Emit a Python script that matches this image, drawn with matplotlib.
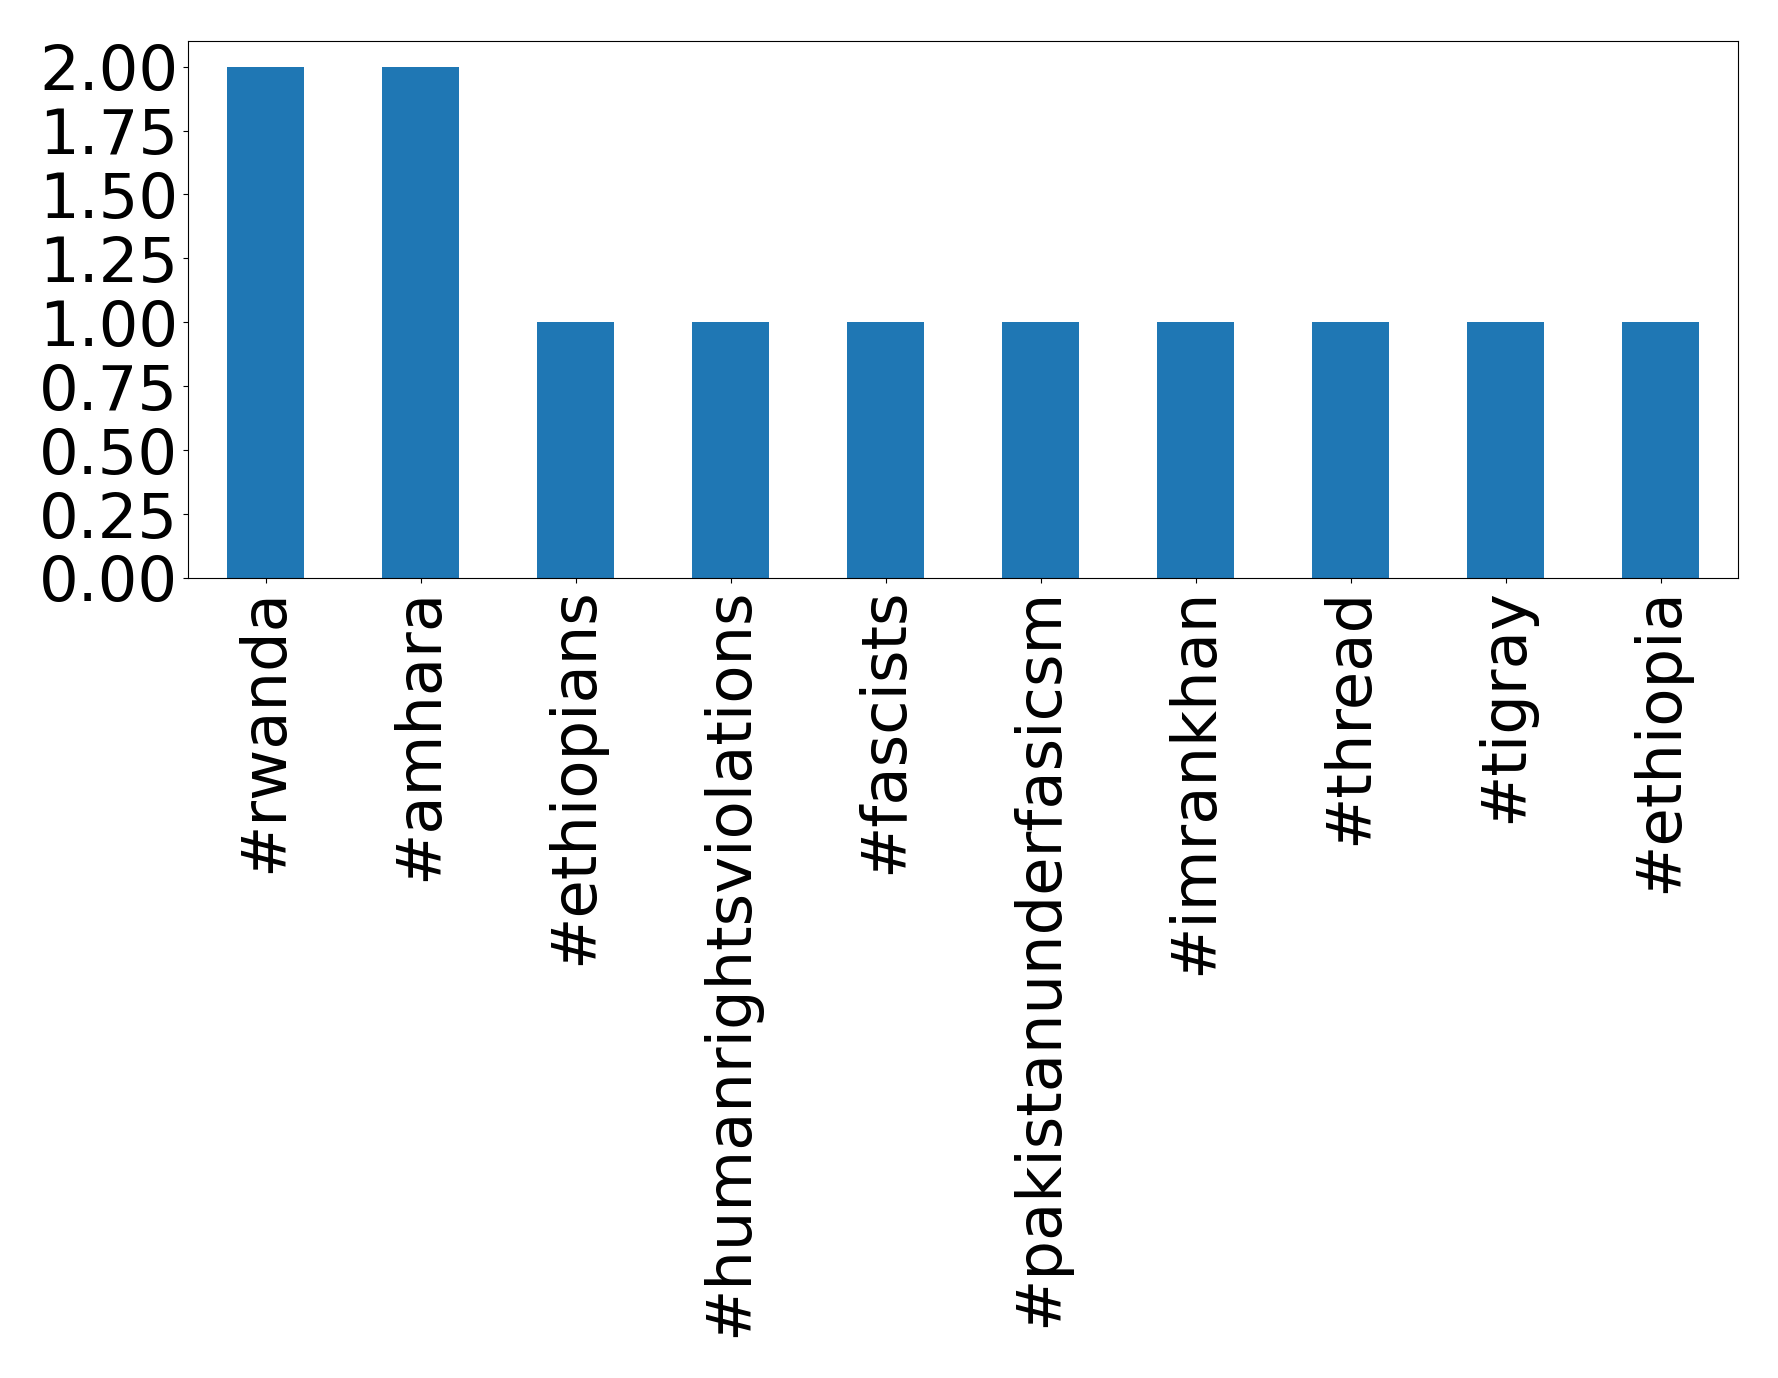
import matplotlib
matplotlib.use("Agg")
import matplotlib.pyplot as plt
import numpy as np
import pandas as pd

hashtags = ['#rwanda', '#amhara', '#ethiopians', '#humanrightsviolations',
            '#fascists', '#pakistanunderfasicsm', '#imrankhan', '#thread',
            '#tigray', '#ethiopia']
counts = [2, 2, 1, 1, 1, 1, 1, 1, 1, 1]
yticks = np.arange(0, 2.01, 0.25)

s = pd.Series(counts, index=hashtags)

fig = plt.figure(figsize=(17.78, 13.78), dpi=100)
ax = fig.add_axes([188 / 1778, 1 - 578 / 1378, (1738 - 188) / 1778, (578 - 41) / 1378])
s.plot(kind='bar', ax=ax, color='#1f77b4')
ax.set_yticks(yticks)
ax.set_yticklabels([f'{v:.2f}' for v in yticks])
ax.tick_params(axis='both', labelsize=45)
plt.savefig('out.png', dpi=100)
